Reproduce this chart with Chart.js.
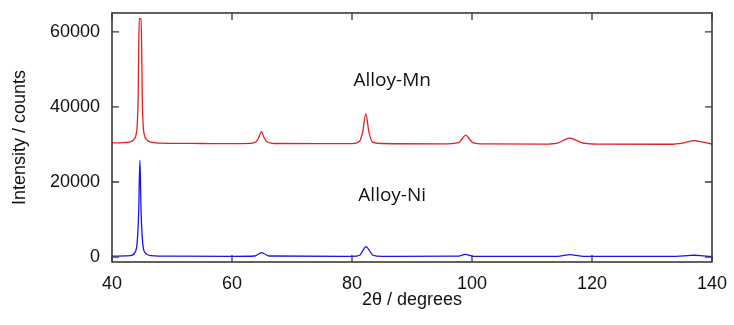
<!DOCTYPE html>
<html>
<head>
<meta charset="utf-8">
<script src="https://cdn.jsdelivr.net/npm/chart.js@4/dist/chart.umd.min.js"></script>
<style>
  html, body { margin: 0; padding: 0; background: #fff; }
  #wrap { width: 734px; height: 325px; }
</style>
</head>
<body>
<div id="wrap"><canvas id="xrd"></canvas></div>
<script>
// 2-theta positions / intensities
const mnTheta = [40, 42, 43, 43.6, 44.0, 44.2, 44.35, 44.45, 44.55, 44.85, 44.95, 45.05, 45.2, 45.4, 45.8, 46.5, 48, 50, 55, 60,
  63, 64.0, 64.5, 64.9, 65.3, 65.8, 67, 75, 80, 81.2, 81.8, 82.3, 82.8, 83.4, 85, 95, 97.8, 98.5, 98.95, 99.4, 100.1, 102,
  112, 114.5, 115.5, 116.3, 117.1, 118.2, 121, 133, 135.5, 137, 138.5, 140];
const mnCounts = [30400, 30500, 30700, 31200, 32500, 35000, 42000, 55000, 63500, 63500, 55000, 42000, 35000, 32500, 31200, 30600, 30350, 30300, 30250, 30200,
  30300, 30700, 32000, 33400, 32000, 30700, 30250, 30200, 30200, 30700, 33500, 38200, 33500, 30700, 30250, 30150, 30500, 31800, 32500, 31800, 30500, 30150,
  30100, 30500, 31300, 31700, 31300, 30500, 30100, 30050, 30500, 31000, 30600, 30100];

const niTheta = [40, 43, 43.8, 44.2, 44.45, 44.65, 44.85, 45.1, 45.5, 46.5, 50, 60, 63.8, 64.5, 64.95, 65.4, 66.2, 80,
  81.3, 81.9, 82.35, 82.8, 83.5, 85, 97.8, 98.5, 98.95, 99.5, 100.2, 114, 115.3, 116.3, 117.4, 119, 134, 136, 137.1, 138.5, 140];
const niCounts = [250, 400, 1200, 4000, 12000, 25800, 12000, 4000, 1200, 400, 250, 200, 300, 900, 1200, 900, 300, 200,
  500, 2000, 2800, 2000, 500, 200, 250, 600, 750, 500, 200, 200, 450, 650, 450, 200, 200, 400, 500, 350, 150];

const xTicks = [40, 60, 80, 100, 120, 140];
const yTicks = [0, 20000, 40000, 60000];

const labelText = ['Alloy-Mn', 'Alloy-Ni'];
const labelTheta = [86.7, 86.7];
const labelCounts = [47000, 16500];

const pts = (xs, ys) => xs.map((x, i) => ({ x: x, y: ys[i] }));

const frame = {
  id: 'frame',
  afterDatasetsDraw(chart) {
    const { ctx, chartArea: a, scales } = chart;
    ctx.save();
    ctx.strokeStyle = '#3a3a3a';
    ctx.lineWidth = 1.3;
    ctx.beginPath();
    xTicks.forEach(v => {
      const px = scales.x.getPixelForValue(v);
      ctx.moveTo(px, a.bottom); ctx.lineTo(px, a.bottom - 7);
      ctx.moveTo(px, a.top); ctx.lineTo(px, a.top + 7);
    });
    yTicks.forEach(v => {
      const py = scales.y.getPixelForValue(v);
      ctx.moveTo(a.left, py); ctx.lineTo(a.left + 7, py);
      ctx.moveTo(a.right, py); ctx.lineTo(a.right - 7, py);
    });
    ctx.stroke();
    ctx.lineWidth = 1.6;
    ctx.strokeRect(a.left, a.top, a.right - a.left, a.bottom - a.top);

    ctx.fillStyle = '#111';
    ctx.font = '19px "Open Sans"';
    ctx.textAlign = 'center';
    ctx.textBaseline = 'middle';
    labelText.forEach((t, i) => {
      ctx.fillText(t, scales.x.getPixelForValue(labelTheta[i]), scales.y.getPixelForValue(labelCounts[i]));
    });
    ctx.restore();
  }
};

new Chart(document.getElementById('xrd'), {
  type: 'line',
  data: {
    datasets: [
      {
        label: 'Alloy-Mn',
        data: pts(mnTheta, mnCounts),
        borderColor: 'rgb(225, 32, 36)',
        borderWidth: 1.3,
        pointRadius: 0,
        cubicInterpolationMode: 'monotone'
      },
      {
        label: 'Alloy-Ni',
        data: pts(niTheta, niCounts),
        borderColor: 'rgb(22, 22, 235)',
        borderWidth: 1.3,
        pointRadius: 0,
        cubicInterpolationMode: 'monotone'
      }
    ]
  },
  options: {
    responsive: true,
    maintainAspectRatio: false,
    animation: false,
    layout: { padding: { top: 13, right: 22, left: 0, bottom: 0 } },
    plugins: { legend: { display: false }, tooltip: { enabled: false } },
    scales: {
      x: {
        type: 'linear',
        min: 40,
        max: 140,
        afterBuildTicks: s => { s.ticks = xTicks.map(v => ({ value: v })); },
        afterFit: s => { s.height = 63; s.paddingLeft = 0; s.paddingRight = 0; },
        grid: { display: false, drawTicks: false },
        border: { display: false },
        ticks: {
          padding: 11,
          color: '#111',
          font: { family: '"Liberation Sans", Arial', size: 18 },
          callback: v => String(v)
        },
        title: {
          display: true,
          text: '2θ / degrees',
          color: '#111',
          font: { family: '"Liberation Sans", Arial', size: 18 },
          padding: { top: 0, bottom: 14 }
        }
      },
      y: {
        type: 'linear',
        min: -1300,
        max: 65000,
        afterBuildTicks: s => { s.ticks = yTicks.map(v => ({ value: v })); },
        afterFit: s => { s.width = 112; s.paddingTop = 0; s.paddingBottom = 0; },
        grid: { display: false, drawTicks: false },
        border: { display: false },
        ticks: {
          padding: 12,
          color: '#111',
          font: { family: '"Liberation Sans", Arial', size: 18 },
          callback: v => String(v)
        },
        title: {
          display: true,
          text: 'Intensity / counts',
          color: '#111',
          font: { family: '"Liberation Sans", Arial', size: 18 },
          padding: { top: 9, bottom: 0 }
        }
      }
    }
  },
  plugins: [frame]
});
</script>
</body>
</html>
